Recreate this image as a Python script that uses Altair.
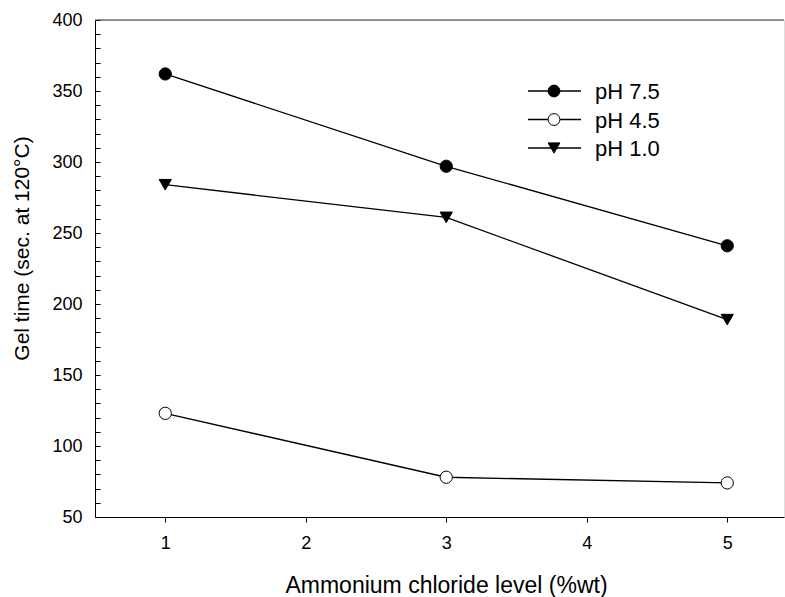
import altair as alt
import pandas as pd

# Data
levels = [1, 3, 5]
series_names = ["pH 7.5", "pH 4.5", "pH 1.0"]
ph75 = [362, 297, 241]
ph45 = [123, 78, 74]
ph10 = [284, 261, 189]

shapes = ["circle", "circle", "triangle-down"]
fills = ["black", "white", "black"]

rows = []
for name, vals in zip(series_names, [ph75, ph45, ph10]):
    for xv, yv in zip(levels, vals):
        rows.append({"level": xv, "gel": yv, "series": name})
df = pd.DataFrame(rows)

W, H = 689, 497
FONT = "Liberation Sans"

x_scale = alt.Scale(domain=[0.5, 5.404], nice=False, zero=False)
y_scale = alt.Scale(domain=[50, 400], nice=False, zero=False)

x_enc = alt.X(
    "level:Q", scale=x_scale,
    axis=alt.Axis(
        title="Ammonium chloride level (%wt)", values=[1, 2, 3, 4, 5],
        format="d", tickSize=5, labelPadding=12, labelFontSize=18,
        titleFontSize=23, titleFontWeight="normal", titleX=351, titleY=75,
        titleBaseline="alphabetic", titleAlign="center", grid=False,
        domainColor="black", tickColor="black", labelColor="black",
        titleColor="black", labelFont=FONT, titleFont=FONT,
    ),
)

y_left = alt.Y(
    "gel:Q", scale=y_scale,
    axis=alt.Axis(
        orient="left", title="Gel time (sec. at 120°C)",
        values=list(range(50, 401, 50)), tickSize=0, labelPadding=13,
        labelFontSize=18, titleFontSize=21, titleFontWeight="normal",
        titleAngle=270, titleX=-73, titleY=228, titleAlign="center",
        titleBaseline="middle", grid=False, domainColor="black",
        labelColor="black", titleColor="black", labelFont=FONT, titleFont=FONT,
    ),
)

lines = alt.Chart(df).mark_line(color="black", strokeWidth=1.3).encode(
    x=x_enc, y=y_left, detail="series:N"
)

points = alt.Chart(df).mark_point(
    filled=False, stroke="black", strokeWidth=1, size=150, opacity=1
).encode(
    x=alt.X("level:Q", scale=x_scale),
    y=alt.Y("gel:Q", scale=y_scale),
    shape=alt.Shape("series:N", scale=alt.Scale(domain=series_names, range=shapes), legend=None),
    fill=alt.Fill("series:N", scale=alt.Scale(domain=series_names, range=fills), legend=None),
)

legend_layers = []
for i, name in enumerate(series_names):
    ly = 71 + i * 28.5
    one = pd.DataFrame({"series": [name]})
    legend_layers.append(
        alt.Chart(one).mark_rule(color="black", strokeWidth=1.3).encode(
            x=alt.value(433), x2=alt.value(486), y=alt.value(ly)
        )
    )
    legend_layers.append(
        alt.Chart(one).mark_point(
            shape=shapes[i], fill=fills[i], stroke="black", strokeWidth=1,
            size=140, opacity=1, filled=False, fillOpacity=1,
        ).encode(x=alt.value(459), y=alt.value(ly))
    )
    legend_layers.append(
        alt.Chart(one).mark_text(
            align="left", baseline="middle", fontSize=22, font=FONT, color="black"
        ).encode(x=alt.value(500), y=alt.value(ly + 1), text="series:N")
    )

main = alt.layer(lines, points, *legend_layers)

# top frame line plus inward minor ticks on the left edge (same domain, own axis)
tick_layer = alt.Chart(pd.DataFrame({"v": [400]})).mark_rule(
    color="#333333", strokeWidth=1
).encode(
    y=alt.Y(
        "v:Q", scale=y_scale,
        axis=alt.Axis(
            orient="right", offset=-W, title=None, values=list(range(50, 401, 10)),
            labels=False, domain=False, tickSize=5, tickColor="black", grid=False,
        ),
    )
)

chart = alt.layer(main, tick_layer).resolve_scale(y="independent").properties(
    width=W, height=H,
    autosize=alt.AutoSizeParams(type="none"),
    padding={"left": 95, "top": 20, "right": 1, "bottom": 80},
).configure_view(stroke=None).configure(background="white")

chart.save("out.html", embed_options={"renderer": "svg", "actions": False})
